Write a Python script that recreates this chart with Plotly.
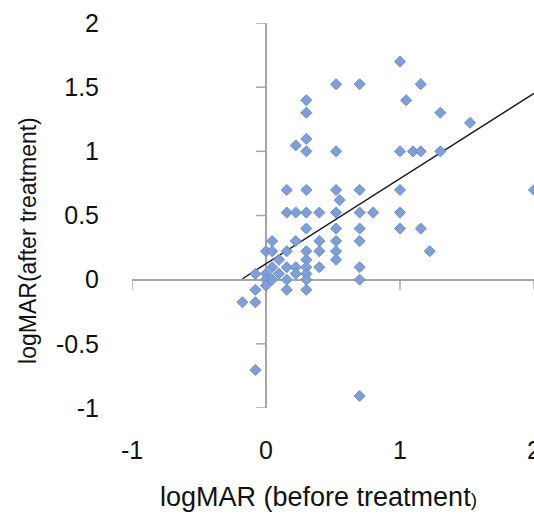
import numpy as np
import plotly.graph_objects as go

# logMAR visual acuity before / after treatment, one entry per eye
before = [
    0.523, 0.699, 0.301, 0.301, 0.301, 0.222, 0.301, 0.523,
    1.0, 1.155, 1.046, 1.301, 1.523, 1.0, 1.097, 1.155, 1.301,
    0.155, 0.301, 0.523, 0.699, 1.0, 2.0,
    0.55,
    0.155, 0.222, 0.301, 0.398, 0.523, 0.699, 0.8, 1.0,
    0.301, 0.523, 0.699, 1.0, 1.155,
    0.046, 0.222, 0.398, 0.523, 0.699,
    0.0, 0.046, 0.155, 0.301, 0.398, 0.523, 1.222,
    0.097, 0.301, 0.523,
    0.046, 0.155, 0.222, 0.301, 0.398, 0.699,
    -0.079, 0.0, 0.097, 0.222, 0.301,
    0.0, 0.046, 0.155, 0.301, 0.699,
    0.0,
    -0.079, 0.155, 0.301,
    -0.176, -0.079,
    -0.079, 0.699,
]
after = [
    1.523, 1.523, 1.398, 1.301, 1.097, 1.046, 1.0, 1.0,
    1.699, 1.523, 1.398, 1.301, 1.222, 1.0, 1.0, 1.0, 1.0,
    0.699, 0.699, 0.699, 0.699, 0.699, 0.699,
    0.62,
    0.523, 0.523, 0.523, 0.523, 0.523, 0.523, 0.523, 0.523,
    0.398, 0.398, 0.398, 0.398, 0.398,
    0.301, 0.301, 0.301, 0.301, 0.301,
    0.222, 0.222, 0.222, 0.222, 0.222, 0.222, 0.222,
    0.155, 0.155, 0.155,
    0.097, 0.097, 0.097, 0.097, 0.097, 0.097,
    0.046, 0.046, 0.046, 0.046, 0.046,
    0.0, 0.0, 0.0, 0.0, 0.0,
    -0.046,
    -0.079, -0.079, -0.079,
    -0.176, -0.176,
    -0.703, -0.906,
]

# linear trend line: after = slope * before + intercept
trend_slope = 0.664
trend_intercept = 0.124

x_ticks = [-1, 0, 1, 2]
x_tick_text = ["-1", "0", "1", "2"]
y_ticks = [-1, -0.5, 0, 0.5, 1, 1.5, 2]
y_tick_text = ["-1", "-0.5", "0", "0.5", "1", "1.5", "2"]

FONT = "Arial, 'Liberation Sans', sans-serif"
AXIS_GREY = "#A6A6A6"
TEXT = "#111111"

bx = np.array(before)
trend_x = np.array([bx.min(), bx.max()])
trend_y = trend_slope * trend_x + trend_intercept

fig = go.Figure()
fig.add_trace(go.Scatter(
    x=trend_x, y=trend_y, mode="lines",
    line=dict(color="#1a1a1a", width=1.4),
    hoverinfo="skip", showlegend=False,
))
fig.add_trace(go.Scatter(
    x=before, y=after, mode="markers",
    marker=dict(symbol="diamond", size=8.5, color="#7F9FD6",
                line=dict(color="#6A8DCB", width=1)),
    showlegend=False,
))

# short tick marks on the axes that cross at the origin
shapes = []
for v in y_ticks:
    shapes.append(dict(type="line", xref="x", yref="y", xsizemode="pixel", xanchor=0,
                       x0=-10, x1=0, y0=v, y1=v,
                       line=dict(color=AXIS_GREY, width=1.5), layer="below"))
for v in x_ticks:
    shapes.append(dict(type="line", xref="x", yref="y", ysizemode="pixel", yanchor=0,
                       y0=-10, y1=0, x0=v, x1=v,
                       line=dict(color=AXIS_GREY, width=1.5), layer="below"))

annotations = [
    dict(text="logMAR (before treatment<span style='font-size:19px'>)</span>",
         xref="paper", yref="paper", x=0.4627, y=-0.231,
         xanchor="center", yanchor="middle", showarrow=False,
         font=dict(family=FONT, size=27, color=TEXT)),
    dict(text="logMAR(after treatment)",
         xref="paper", yref="paper", x=-0.2587, y=0.434,
         xanchor="center", yanchor="middle", showarrow=False, textangle=-90,
         font=dict(family=FONT, size=23, color=TEXT)),
]

fig.update_layout(
    width=534, height=516,
    margin=dict(l=132, r=0, t=23, b=108, autoexpand=False),
    paper_bgcolor="white", plot_bgcolor="white",
    font=dict(family=FONT, size=25, color=TEXT),
    shapes=shapes,
    annotations=annotations,
    xaxis=dict(
        range=[-1, 2], showgrid=False, showline=False, automargin=False,
        zeroline=True, zerolinecolor=AXIS_GREY, zerolinewidth=1.5,
        tickmode="array", tickvals=x_ticks, ticktext=x_tick_text,
        ticks="", ticklabelstandoff=25, ticklabeloverflow="allow",
        tickfont=dict(family=FONT, size=25, color=TEXT),
    ),
    yaxis=dict(
        range=[-1, 2], showgrid=False, showline=False, automargin=False,
        zeroline=True, zerolinecolor=AXIS_GREY, zerolinewidth=1.5,
        tickmode="array", tickvals=y_ticks, ticktext=y_tick_text,
        ticks="", ticklabelstandoff=32, ticklabeloverflow="allow",
        tickfont=dict(family=FONT, size=25, color=TEXT),
    ),
)

fig.write_html("out.html")
